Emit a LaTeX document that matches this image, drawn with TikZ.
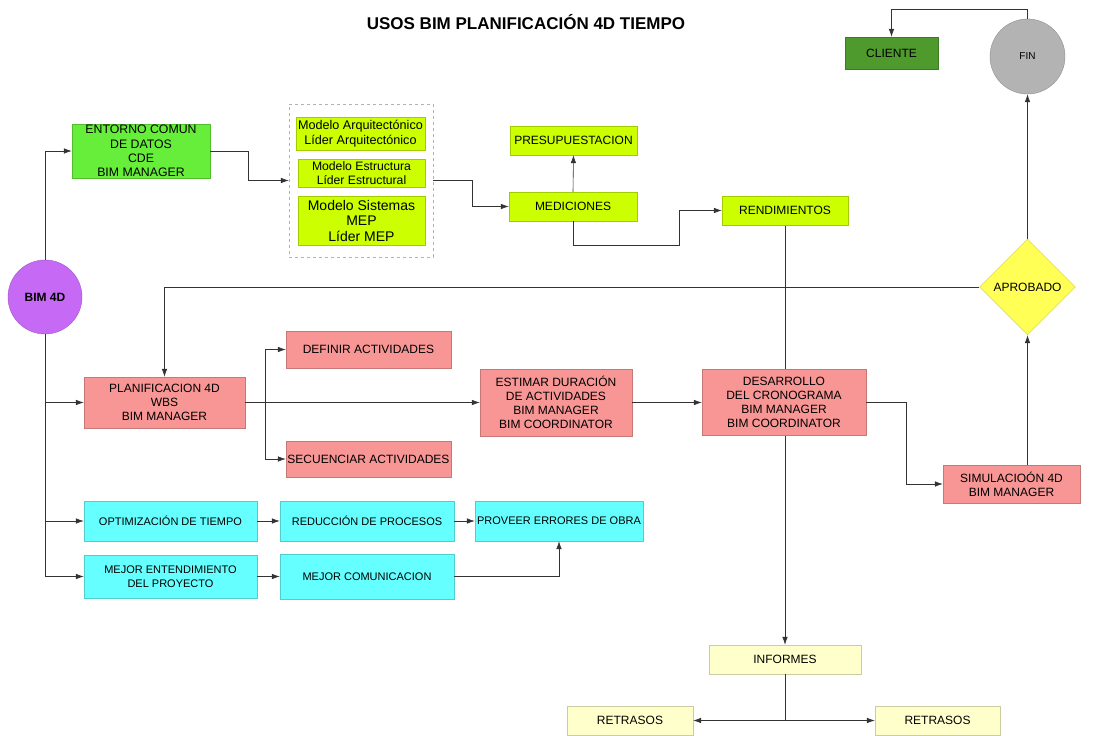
\documentclass[tikz,border=0pt]{standalone}
\usepackage{fontspec}
\setmainfont{Liberation Sans}
\usetikzlibrary{arrows.meta, shapes.geometric, backgrounds}
\definecolor{verde}{HTML}{66EE3A}
\definecolor{verdeosc}{HTML}{4F9A2C}
\definecolor{lima}{HTML}{CCFF00}
\definecolor{rosa}{HTML}{F79695}
\definecolor{celeste}{HTML}{66FFFF}
\definecolor{crema}{HTML}{FFFFCC}
\definecolor{lila}{HTML}{C66AF5}
\definecolor{gris}{HTML}{B3B3B3}
\definecolor{amarillo}{HTML}{FFFF55}

\begin{document}
\begin{tikzpicture}[x=1pt, y=-1pt, >={Latex[length=8pt,width=5.5pt]},
    every node/.style={font=\fontsize{12}{14}\selectfont, align=center, inner sep=1pt},
    caja/.style={draw=#1!80!black, fill=#1},
    tam/.style 2 args={minimum width=#1, minimum height=#2},
    linea/.style={draw=black!80, line width=0.6pt}]
            \useasboundingbox (0,0) rectangle (1109,736);
            \node (titulo) at (526,22) {\fontsize{17}{20}\selectfont\bfseries USOS BIM PLANIFICACIÓN 4D TIEMPO};
            \begin{scope}
              \node[caja=verdeosc, tam={93}{32}] (cliente) at (891.5,53) {CLIENTE};
              \node[circle, caja=gris, minimum size=75] (fin) at (1027.5,56.5) {\fontsize{10}{12}\selectfont FIN};
              \node[caja=verde, tam={138}{52}, font=\fontsize{12.3}{14.3}\selectfont] (entorno) at (141,151)
                {ENTORNO COMUN\\DE DATOS\\CDE\\BIM MANAGER};
              \node[draw=gray!60, dashed, tam={144}{153}] (modelos) at (361,180.5) {};
              \node[caja=lima, tam={129}{33}, font=\fontsize{12.6}{15}\selectfont] (arq) at (360.5,133.5)
                {Modelo Arquitectónico\\Líder Arquitectónico};
              \node[caja=lima, tam={127}{28}, font=\fontsize{12.2}{14}\selectfont] (estr) at (361.5,173)
                {Modelo Estructura\\Líder Estructural};
              \node[caja=lima, tam={127}{49}, font=\fontsize{14}{15.5}\selectfont] (mep) at (361.5,220.5)
                {Modelo Sistemas\\MEP\\Líder MEP};
              \node[caja=lima, tam={127}{29}] (presup) at (573.5,140.5) {PRESUPUESTACION};
              \node[caja=lima, tam={128}{29}] (medic) at (573,206.5) {MEDICIONES};
              \node[caja=lima, tam={126}{29}] (rend) at (785,210.5) {RENDIMIENTOS};
            \end{scope}
            \begin{scope}
              \node[circle, caja=lila, minimum size=74] (bim) at (45,297) {\bfseries BIM 4D};
              \node[diamond, caja=amarillo, tam={96}{96}] (aprob) at (1027.5,287) {APROBADO};
              \node[caja=rosa, tam={161}{51}] (plan) at (164.5,402.5) {PLANIFICACION 4D\\WBS\\BIM MANAGER};
              \node[caja=rosa, tam={165}{37}] (definir) at (368.5,349.5) {DEFINIR ACTIVIDADES};
              \node[caja=rosa, tam={165}{36}] (secuen) at (368.5,459) {SECUENCIAR ACTIVIDADES};
              \node[caja=rosa, tam={152}{67}] (estimar) at (556,402.5)
                {ESTIMAR DURACIÓN\\DE ACTIVIDADES\\BIM MANAGER\\BIM COORDINATOR};
              \node[caja=rosa, tam={164}{66}] (desarr) at (784,402.5)
                {DESARROLLO\\DEL CRONOGRAMA\\BIM MANAGER\\BIM COORDINATOR};
              \node[caja=rosa, tam={137}{38}] (simul) at (1011.5,484) {SIMULACIOÓN 4D\\BIM MANAGER};
            \end{scope}
            \begin{scope}[every node/.append style={font=\fontsize{11}{13.5}\selectfont}]
              \node[caja=celeste, tam={173}{40}] (optim) at (170.5,521) {OPTIMIZACIÓN DE TIEMPO};
              \node[caja=celeste, tam={174}{40}] (reduc) at (367,521) {REDUCCIÓN DE PROCESOS};
              \node[caja=celeste, tam={168}{40}] (proveer) at (559,521) {PROVEER ERRORES DE OBRA};
              \node[caja=celeste, tam={173}{43}] (mejorent) at (170.5,576.5) {MEJOR ENTENDIMIENTO\\DEL PROYECTO};
              \node[caja=celeste, tam={174}{45}] (mejorcom) at (367,576.5) {MEJOR COMUNICACION};
            \end{scope}
            \begin{scope}
              \node[caja=crema, tam={152}{29}] (informes) at (785,659.5) {INFORMES};
              \node[caja=crema, tam={126}{29}] (retr1) at (630,720.5) {RETRASOS};
              \node[caja=crema, tam={125}{29}] (retr2) at (937.5,720.5) {RETRASOS};
            \end{scope}
            \coordinate (c1) at (679,245);
            \coordinate (c3) at (265,402.5);
            \begin{scope}[linea, ->]
              \draw (bim.north) |- (entorno.west);
              \draw (bim.south) |- (plan.west);
              \draw (bim.south) |- (optim.west);
              \draw (bim.south) |- (mejorent.west);
              \draw (entorno.east) -- ++(38,0) |- (modelos.west);
              \draw (modelos.east) -- ++(39,0) |- (medic.west);
              \draw (medic.north) -- (presup.south);
              \draw (medic.south) |- (c1) |- (rend.west);
              \draw (aprob.west) -| (plan.north);
              \draw (simul.north -| aprob.south) -- (aprob.south);
              \draw (aprob.north) -- (fin.south);
              \draw (fin.north) -- ++(0,-10) -| (cliente.north);
              \draw (plan.east) -- (estimar.west);
              \draw (c3) |- (definir.west);
              \draw (c3) |- (secuen.west);
              \draw (estimar) -- (desarr);
              \draw (desarr.east) -- ++(40,0) |- (simul.west);
              \draw (optim) -- (reduc);
              \draw (reduc) -- (proveer);
              \draw (mejorent) -- (mejorcom);
              \draw (mejorcom.east) -| (proveer.south);
              \draw (informes.south) |- (retr1.east);
              \draw (informes.south) |- (retr2.west);
            \end{scope}
            \begin{scope}[on background layer]
              \fill[white] (0,0) rectangle (1109,736);
              \draw[linea, ->] (rend.south) -- (informes.north);
            \end{scope}
\end{tikzpicture}
\end{document}
